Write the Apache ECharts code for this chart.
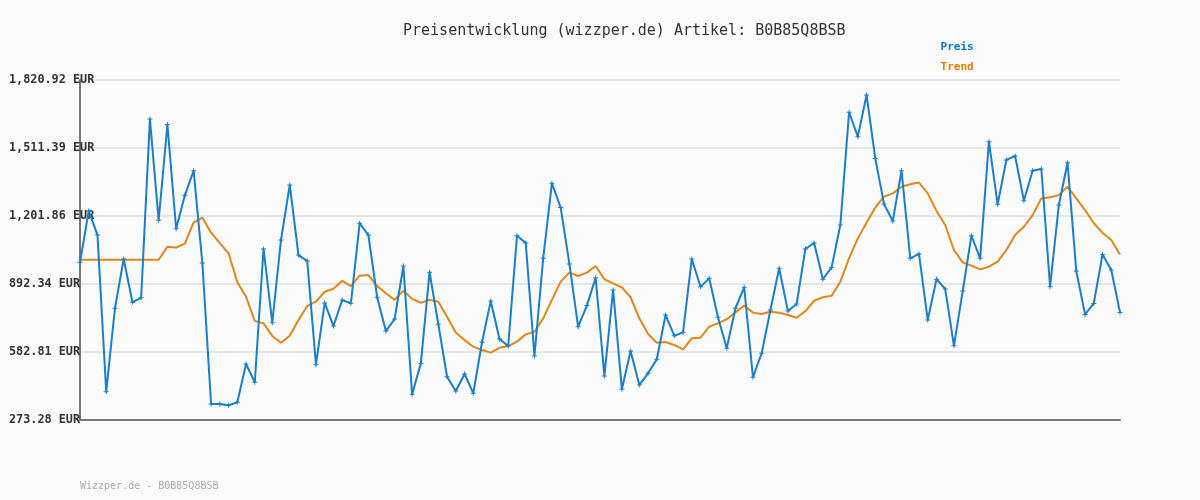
<!DOCTYPE html>
<html>
<head>
<meta charset="utf-8">
<script src="https://cdn.jsdelivr.net/npm/echarts@6/dist/echarts.min.js"></script>
<style>
  html, body { margin: 0; padding: 0; background: #fafafa; }
  #container { width: 1200px; height: 500px; }
</style>
</head>
<body>
<div id="container"></div>
<script>
const dom = document.getElementById("container");
const myChart = echarts.init(dom);

// price readings
const preis = [
  991, 1225, 1115, 402, 782, 1006, 809, 830, 1643, 1182,
  1618, 1144, 1296, 1408, 988, 346, 346, 340, 354, 528,
  445, 1052, 716, 1093, 1343, 1024, 997, 525, 806, 701,
  819, 805, 1169, 1115, 832, 678, 733, 974, 390, 531,
  946, 709, 470, 405, 483, 395, 627, 815, 642, 610,
  1112, 1079, 565, 1009, 1351, 1240, 983, 698, 794, 921,
  474, 865, 413, 587, 433, 486, 550, 751, 657, 672,
  1006, 880, 918, 741, 600, 782, 877, 468, 577, 774,
  964, 769, 801, 1052, 1079, 914, 968, 1161, 1674, 1563,
  1753, 1464, 1256, 1179, 1408, 1009, 1029, 728, 914, 870,
  611, 860, 1112, 1009, 1540, 1255, 1457, 1475, 1271, 1408,
  1416, 880, 1252, 1444, 951, 754, 804, 1027, 956, 763
]

const trend = [
  1003, 1003, 1003, 1003, 1003, 1003, 1003, 1003, 1003, 1003,
  1062, 1058, 1076, 1173, 1194, 1126, 1078, 1032, 900, 834,
  724, 713, 656, 625, 657, 728, 792, 812, 857, 871,
  907, 883, 930, 933, 883, 850, 820, 862, 825, 807,
  820, 812, 743, 672, 637, 607, 592, 580, 602, 610,
  630, 663, 675, 736, 820, 903, 944, 929, 944, 974,
  914, 895, 877, 832, 736, 665, 625, 628, 615, 595,
  645, 648, 698, 713, 732, 763, 794, 762, 756, 766,
  762, 751, 739, 769, 816, 832, 839, 903, 1010, 1100,
  1171, 1241, 1290, 1305, 1335, 1346, 1354, 1305, 1225, 1161,
  1047, 991, 976, 959, 971, 994, 1047, 1115, 1153, 1206,
  1282, 1287, 1297, 1335, 1282, 1229, 1169, 1126, 1093, 1027
]

const yMin = 273.28
const yMax = 1820.92
const yStep = 309.528

const mono = "'DejaVu Sans Mono', monospace"
const blue = '#1a7ec8'
const orange = '#e0861a'

const fmt = v => v.toLocaleString('en-US', { minimumFractionDigits: 2, maximumFractionDigits: 2 }) + ' EUR'

const option = {
  backgroundColor: '#fafafa',
  animation: false,
  title: {
    text: 'Preisentwicklung (wizzper.de) Artikel: B0B85Q8BSB',
    left: 398,
    top: 19,
    textStyle: { fontFamily: mono, fontSize: 15, fontWeight: 'normal', color: '#333' }
  },
  legend: {
    orient: 'vertical',
    left: 925,
    top: 37,
    itemWidth: 0,
    itemHeight: 14,
    itemGap: 8,
    itemStyle: { opacity: 0 },
    lineStyle: { opacity: 0 },
    textStyle: { fontFamily: mono, fontSize: 11, fontWeight: 'bold' },
    data: [
      { name: 'Preis', textStyle: { color: '#0a75c2' } },
      { name: 'Trend', textStyle: { color: '#d98100' } }
    ]
  },
  graphic: [{
    type: 'text',
    left: 80,
    top: 481,
    style: { text: 'Wizzper.de - B0B85Q8BSB', fontFamily: mono, fontSize: 10, fill: '#aaa' }
  }],
  grid: { left: 80, right: 80, top: 80, bottom: 80 },
  xAxis: {
    type: 'category',
    boundaryGap: false,
    axisLine: { lineStyle: { color: '#777', width: 2 } },
    axisTick: { show: false },
    axisLabel: { show: false },
    splitLine: { show: false }
  },
  yAxis: {
    type: 'value',
    min: yMin,
    max: yMax,
    interval: yStep,
    axisLine: { show: true, lineStyle: { color: '#777', width: 2 } },
    axisTick: { show: false },
    axisLabel: {
      formatter: fmt,
      align: 'left',
      margin: 71,
      fontFamily: mono,
      fontSize: 11.8,
      fontWeight: 'bold',
      color: '#333'
    },
    splitLine: { lineStyle: { color: '#e6e6e6', width: 2 } }
  },
  series: [
    {
      name: 'Preis',
      type: 'line',
      data: preis,
      symbol: 'path://M2,0H3V2H5V3H3V5H2V3H0V2H2Z',
      symbolSize: 5,
      showAllSymbol: true,
      itemStyle: { color: blue },
      lineStyle: { color: blue, width: 2 },
      z: 3
    },
    {
      name: 'Trend',
      type: 'line',
      data: trend,
      symbol: 'none',
      itemStyle: { color: orange },
      lineStyle: { color: orange, width: 2 },
      z: 2
    }
  ]
}

myChart.setOption(option)
</script>
</body>
</html>
